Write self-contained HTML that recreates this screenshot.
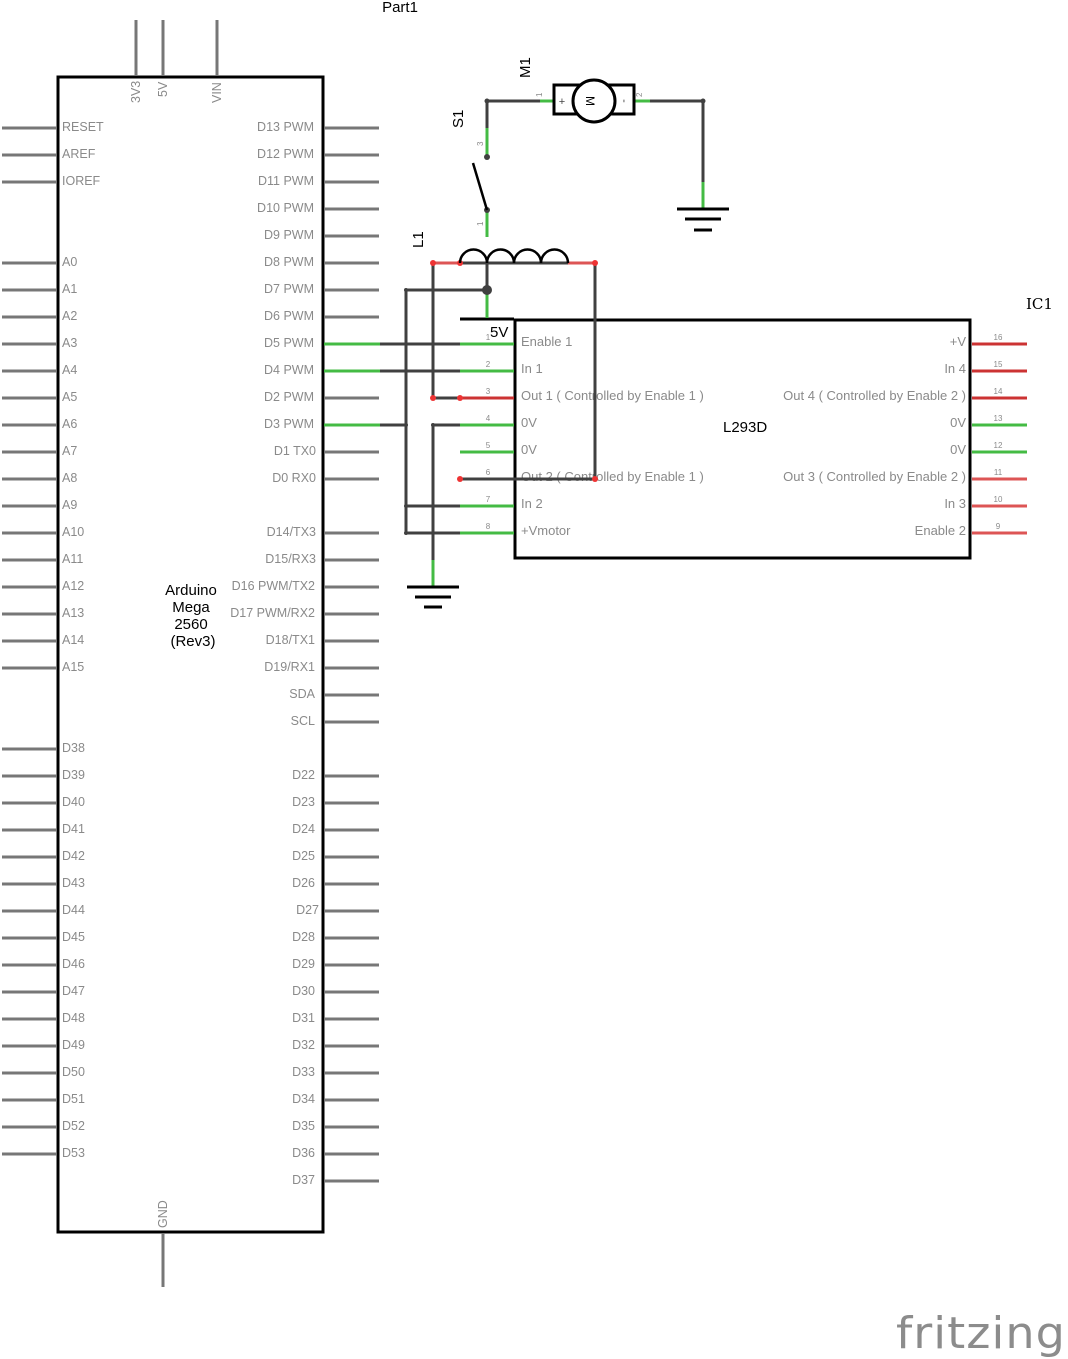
<!DOCTYPE html>
<html><head><meta charset="utf-8"><style>
html,body{margin:0;padding:0;background:#fff;}
svg{display:block;}
.l{font-family:"Liberation Sans","DejaVu Sans",sans-serif;font-size:12.5px;fill:#8a8a8a;}
.ic{font-size:13px;}
.n{font-family:"Liberation Sans","DejaVu Sans",sans-serif;font-size:8px;fill:#8a8a8a;}
.b{font-family:"Liberation Sans","DejaVu Sans",sans-serif;font-size:15px;fill:#000;}
</style></head><body>
<svg width="1068" height="1359" viewBox="0 0 1068 1359" xmlns="http://www.w3.org/2000/svg">
<rect width="1068" height="1359" fill="#fff"/>
<rect x="58" y="77" width="265" height="1155" fill="none" stroke="#000" stroke-width="3"/>
<g stroke="#777" stroke-width="3">
<line x1="136" y1="20" x2="136" y2="76"/><line x1="163" y1="20" x2="163" y2="76"/><line x1="217" y1="20" x2="217" y2="76"/>
<line x1="163" y1="1233" x2="163" y2="1287"/>
<line x1="2" y1="128" x2="57" y2="128"/><line x1="2" y1="155" x2="57" y2="155"/><line x1="2" y1="182" x2="57" y2="182"/>
<line x1="2" y1="263" x2="57" y2="263"/><line x1="2" y1="290" x2="57" y2="290"/><line x1="2" y1="317" x2="57" y2="317"/><line x1="2" y1="344" x2="57" y2="344"/>
<line x1="2" y1="371" x2="57" y2="371"/><line x1="2" y1="398" x2="57" y2="398"/><line x1="2" y1="425" x2="57" y2="425"/><line x1="2" y1="452" x2="57" y2="452"/>
<line x1="2" y1="479" x2="57" y2="479"/><line x1="2" y1="506" x2="57" y2="506"/><line x1="2" y1="533" x2="57" y2="533"/><line x1="2" y1="560" x2="57" y2="560"/>
<line x1="2" y1="587" x2="57" y2="587"/><line x1="2" y1="614" x2="57" y2="614"/><line x1="2" y1="641" x2="57" y2="641"/><line x1="2" y1="668" x2="57" y2="668"/>
<line x1="2" y1="749" x2="57" y2="749"/><line x1="2" y1="776" x2="57" y2="776"/><line x1="2" y1="803" x2="57" y2="803"/><line x1="2" y1="830" x2="57" y2="830"/>
<line x1="2" y1="857" x2="57" y2="857"/><line x1="2" y1="884" x2="57" y2="884"/><line x1="2" y1="911" x2="57" y2="911"/><line x1="2" y1="938" x2="57" y2="938"/>
<line x1="2" y1="965" x2="57" y2="965"/><line x1="2" y1="992" x2="57" y2="992"/><line x1="2" y1="1019" x2="57" y2="1019"/><line x1="2" y1="1046" x2="57" y2="1046"/>
<line x1="2" y1="1073" x2="57" y2="1073"/><line x1="2" y1="1100" x2="57" y2="1100"/><line x1="2" y1="1127" x2="57" y2="1127"/><line x1="2" y1="1154" x2="57" y2="1154"/>
<line x1="324" y1="128" x2="379" y2="128"/><line x1="324" y1="155" x2="379" y2="155"/><line x1="324" y1="182" x2="379" y2="182"/><line x1="324" y1="209" x2="379" y2="209"/>
<line x1="324" y1="236" x2="379" y2="236"/><line x1="324" y1="263" x2="379" y2="263"/><line x1="324" y1="290" x2="379" y2="290"/><line x1="324" y1="317" x2="379" y2="317"/>
<line x1="324" y1="398" x2="379" y2="398"/><line x1="324" y1="452" x2="379" y2="452"/><line x1="324" y1="479" x2="379" y2="479"/>
<line x1="324" y1="533" x2="379" y2="533"/><line x1="324" y1="560" x2="379" y2="560"/><line x1="324" y1="587" x2="379" y2="587"/><line x1="324" y1="614" x2="379" y2="614"/>
<line x1="324" y1="641" x2="379" y2="641"/><line x1="324" y1="668" x2="379" y2="668"/><line x1="324" y1="695" x2="379" y2="695"/><line x1="324" y1="722" x2="379" y2="722"/>
<line x1="324" y1="776" x2="379" y2="776"/><line x1="324" y1="803" x2="379" y2="803"/><line x1="324" y1="830" x2="379" y2="830"/><line x1="324" y1="857" x2="379" y2="857"/>
<line x1="324" y1="884" x2="379" y2="884"/><line x1="324" y1="911" x2="379" y2="911"/><line x1="324" y1="938" x2="379" y2="938"/><line x1="324" y1="965" x2="379" y2="965"/>
<line x1="324" y1="992" x2="379" y2="992"/><line x1="324" y1="1019" x2="379" y2="1019"/><line x1="324" y1="1046" x2="379" y2="1046"/><line x1="324" y1="1073" x2="379" y2="1073"/>
<line x1="324" y1="1100" x2="379" y2="1100"/><line x1="324" y1="1127" x2="379" y2="1127"/><line x1="324" y1="1154" x2="379" y2="1154"/><line x1="324" y1="1181" x2="379" y2="1181"/>
</g>
<g stroke="#44bb44" stroke-width="3">
<line x1="324" y1="344" x2="380" y2="344"/><line x1="324" y1="371" x2="380" y2="371"/><line x1="324" y1="425" x2="380" y2="425"/>
</g>
<g class="l" transform="translate(0,-1)">
<text x="62" y="132">RESET</text><text x="62" y="159">AREF</text><text x="62" y="186">IOREF</text>
<text x="62" y="267">A0</text><text x="62" y="294">A1</text><text x="62" y="321">A2</text><text x="62" y="348">A3</text>
<text x="62" y="375">A4</text><text x="62" y="402">A5</text><text x="62" y="429">A6</text><text x="62" y="456">A7</text>
<text x="62" y="483">A8</text><text x="62" y="510">A9</text><text x="62" y="537">A10</text><text x="62" y="564">A11</text>
<text x="62" y="591">A12</text><text x="62" y="618">A13</text><text x="62" y="645">A14</text><text x="62" y="672">A15</text>
<text x="62" y="753">D38</text><text x="62" y="780">D39</text><text x="62" y="807">D40</text><text x="62" y="834">D41</text>
<text x="62" y="861">D42</text><text x="62" y="888">D43</text><text x="62" y="915">D44</text><text x="62" y="942">D45</text>
<text x="62" y="969">D46</text><text x="62" y="996">D47</text><text x="62" y="1023">D48</text><text x="62" y="1050">D49</text>
<text x="62" y="1077">D50</text><text x="62" y="1104">D51</text><text x="62" y="1131">D52</text><text x="62" y="1158">D53</text>
</g>
<g class="l" text-anchor="end" transform="translate(0,-1)">
<text x="314" y="132">D13 PWM</text><text x="314" y="159">D12 PWM</text><text x="314" y="186">D11 PWM</text><text x="314" y="213">D10 PWM</text>
<text x="314" y="240">D9 PWM</text><text x="314" y="267">D8 PWM</text><text x="314" y="294">D7 PWM</text><text x="314" y="321">D6 PWM</text>
<text x="314" y="348">D5 PWM</text><text x="314" y="375">D4 PWM</text><text x="314" y="402">D2 PWM</text><text x="314" y="429">D3 PWM</text>
<text x="316" y="456">D1 TX0</text><text x="316" y="483">D0 RX0</text>
<text x="316" y="537">D14/TX3</text><text x="316" y="564">D15/RX3</text><text x="315" y="591">D16 PWM/TX2</text><text x="315" y="618">D17 PWM/RX2</text>
<text x="315" y="645">D18/TX1</text><text x="315" y="672">D19/RX1</text><text x="315" y="699">SDA</text><text x="315" y="726">SCL</text>
<text x="315" y="780">D22</text><text x="315" y="807">D23</text><text x="315" y="834">D24</text><text x="315" y="861">D25</text>
<text x="315" y="888">D26</text><text x="319" y="915">D27</text><text x="315" y="942">D28</text><text x="315" y="969">D29</text>
<text x="315" y="996">D30</text><text x="315" y="1023">D31</text><text x="315" y="1050">D32</text><text x="315" y="1077">D33</text>
<text x="315" y="1104">D34</text><text x="315" y="1131">D35</text><text x="315" y="1158">D36</text><text x="315" y="1185">D37</text>
</g>
<g class="l" font-size="11">
<text transform="translate(140,103) rotate(-90)">3V3</text>
<text transform="translate(167,97) rotate(-90)">5V</text>
<text transform="translate(221,103) rotate(-90)">VIN</text>
<text transform="translate(167,1228) rotate(-90)">GND</text>
</g>
<g class="b" text-anchor="middle">
<text x="191" y="595">Arduino</text><text x="191" y="612">Mega</text><text x="191" y="629">2560</text><text x="193" y="646">(Rev3)</text>
<text x="400" y="12">Part1</text>
</g>

<rect x="515" y="320" width="455" height="238" fill="none" stroke="#000" stroke-width="3"/>
<line x1="460" y1="319" x2="514" y2="319" stroke="#000" stroke-width="3"/>
<g stroke-width="3">
<line x1="460" y1="344" x2="514" y2="344" stroke="#44bb44"/>
<line x1="460" y1="371" x2="514" y2="371" stroke="#44bb44"/>
<line x1="460" y1="398" x2="514" y2="398" stroke="#cc3333"/>
<line x1="460" y1="425" x2="514" y2="425" stroke="#44bb44"/>
<line x1="460" y1="452" x2="514" y2="452" stroke="#44bb44"/>
<line x1="460" y1="479" x2="514" y2="479" stroke="#ee8888"/>
<line x1="460" y1="506" x2="514" y2="506" stroke="#44bb44"/>
<line x1="460" y1="533" x2="514" y2="533" stroke="#44bb44"/>
<line x1="972" y1="344" x2="1027" y2="344" stroke="#cc3333"/>
<line x1="972" y1="371" x2="1027" y2="371" stroke="#cc3333"/>
<line x1="972" y1="398" x2="1027" y2="398" stroke="#cc3333"/>
<line x1="972" y1="425" x2="1027" y2="425" stroke="#44bb44"/>
<line x1="972" y1="452" x2="1027" y2="452" stroke="#44bb44"/>
<line x1="972" y1="479" x2="1027" y2="479" stroke="#dd5555"/>
<line x1="972" y1="506" x2="1027" y2="506" stroke="#dd5555"/>
<line x1="972" y1="533" x2="1027" y2="533" stroke="#dd5555"/>
</g>
<g class="n" text-anchor="middle">
<text x="488" y="340">1</text><text x="488" y="367">2</text><text x="488" y="394">3</text><text x="488" y="421">4</text>
<text x="488" y="448">5</text><text x="488" y="475">6</text><text x="488" y="502">7</text><text x="488" y="529">8</text>
<text x="998" y="340">16</text><text x="998" y="367">15</text><text x="998" y="394">14</text><text x="998" y="421">13</text>
<text x="998" y="448">12</text><text x="998" y="475">11</text><text x="998" y="502">10</text><text x="998" y="529">9</text>
</g>
<g class="l ic" transform="translate(0,-1)">
<text x="521" y="347">Enable 1</text><text x="521" y="374">In 1</text><text x="521" y="401">Out 1 ( Controlled by Enable 1 )</text>
<text x="521" y="428">0V</text><text x="521" y="455">0V</text><text x="521" y="482">Out 2 ( Controlled by Enable 1 )</text>
<text x="521" y="509">In 2</text><text x="521" y="536">+Vmotor</text>
</g>
<g class="l ic" text-anchor="end" transform="translate(0,-1)">
<text x="966" y="347">+V</text><text x="966" y="374">In 4</text><text x="966" y="401">Out 4 ( Controlled by Enable 2 )</text>
<text x="966" y="428">0V</text><text x="966" y="455">0V</text><text x="966" y="482">Out 3 ( Controlled by Enable 2 )</text>
<text x="966" y="509">In 3</text><text x="966" y="536">Enable 2</text>
</g>
<text class="b" x="723" y="432">L293D</text>
<text class="b" x="490" y="337">5V</text>
<text x="1026" y="309" font-family="'DejaVu Serif','Liberation Serif',serif" font-size="15">IC1</text>

<g stroke="#404040" stroke-width="3" fill="none">
<line x1="380" y1="344" x2="460" y2="344"/>
<line x1="380" y1="371" x2="460" y2="371"/>
<line x1="380" y1="425" x2="406" y2="425"/>
<line x1="433" y1="425" x2="460" y2="425"/>
<line x1="433" y1="398" x2="460" y2="398"/>
<line x1="460" y1="479" x2="595" y2="479"/>
<line x1="406" y1="506" x2="460" y2="506"/>
<line x1="406" y1="533" x2="460" y2="533"/>
<line x1="406" y1="290" x2="406" y2="533"/>
<line x1="406" y1="290" x2="487" y2="290"/>
<line x1="433" y1="263" x2="433" y2="398"/>
<line x1="433" y1="425" x2="433" y2="560"/>
<line x1="595" y1="263" x2="595" y2="479"/>
<line x1="460" y1="263" x2="568" y2="263"/>
<line x1="487" y1="263" x2="487" y2="290"/>
<line x1="487" y1="101" x2="540" y2="101"/>
<line x1="650" y1="101" x2="703" y2="101"/>
<line x1="703" y1="101" x2="703" y2="182"/>
<line x1="487" y1="101" x2="487" y2="128"/>
</g>
<g stroke-width="3">
<line x1="433" y1="263" x2="460" y2="263" stroke="#dd5555"/>
<line x1="568" y1="263" x2="595" y2="263" stroke="#dd5555"/>
<line x1="487" y1="290" x2="487" y2="318" stroke="#44bb44"/>
<line x1="433" y1="560" x2="433" y2="586" stroke="#44bb44"/>
<line x1="703" y1="182" x2="703" y2="208" stroke="#44bb44"/>
<line x1="487" y1="128" x2="487" y2="157" stroke="#44bb44"/>
<line x1="487" y1="210" x2="487" y2="237" stroke="#44bb44"/>
<line x1="540" y1="101" x2="553" y2="101" stroke="#44bb44"/>
<line x1="635" y1="101" x2="650" y2="101" stroke="#44bb44"/>
</g>
<g fill="#ee3333">
<circle cx="433" cy="263" r="3"/><circle cx="460" cy="263" r="3"/><circle cx="595" cy="263" r="3"/>
<circle cx="433" cy="398" r="3"/><circle cx="460" cy="398" r="3"/><circle cx="460" cy="479" r="3"/><circle cx="595" cy="479" r="3"/>
</g>
<g fill="#404040">
<circle cx="487" cy="290" r="5"/><circle cx="487" cy="101" r="2.5"/><circle cx="703" cy="101" r="2.5"/>
<circle cx="406" cy="290" r="2"/><circle cx="406" cy="425" r="2"/><circle cx="433" cy="425" r="2"/><circle cx="406" cy="506" r="2"/><circle cx="406" cy="533" r="2"/>
<circle cx="487" cy="157" r="3"/><circle cx="487" cy="210" r="3"/>
</g>
<g stroke="#000" stroke-width="3">
<line x1="407" y1="587" x2="459" y2="587"/><line x1="415" y1="597" x2="451" y2="597"/><line x1="424" y1="607" x2="442" y2="607"/>
<line x1="677" y1="209" x2="729" y2="209"/><line x1="685" y1="219" x2="721" y2="219"/><line x1="694" y1="230" x2="712" y2="230"/>
</g>
<line x1="473" y1="163" x2="487" y2="210" stroke="#000" stroke-width="2.5"/>
<path d="M460 263 A13.5 13.5 0 0 1 487 263 A13.5 13.5 0 0 1 514 263 A13.5 13.5 0 0 1 541 263 A13.5 13.5 0 0 1 568 263" fill="none" stroke="#000" stroke-width="2.5"/>
<rect x="554" y="85" width="80" height="29" fill="#fff" stroke="#000" stroke-width="3"/>
<circle cx="594" cy="101" r="21" fill="#fff" stroke="#000" stroke-width="3"/>
<text x="0" y="0" transform="translate(590,101) rotate(90)" text-anchor="middle" font-family="'Liberation Sans',sans-serif" font-size="12" dy="4">M</text>
<text x="562" y="105" font-family="'Liberation Sans',sans-serif" font-size="11" fill="#444" text-anchor="middle">+</text>
<text x="0" y="0" transform="translate(625,101) rotate(90)" font-family="'Liberation Sans',sans-serif" font-size="11" fill="#444" text-anchor="middle" dy="4">-</text>
<g class="n">
<text transform="translate(542,97) rotate(-90)">1</text>
<text transform="translate(642,97) rotate(-90)">2</text>
<text transform="translate(483,146) rotate(-90)">3</text>
<text transform="translate(483,226) rotate(-90)">1</text>
</g>
<g class="b">
<text transform="translate(530,78) rotate(-90)">M1</text>
<text transform="translate(463,128) rotate(-90)">S1</text>
<text transform="translate(423,248) rotate(-90)">L1</text>
</g>
<text x="896" y="1348" font-family="'DejaVu Sans','Liberation Sans',sans-serif" font-size="44" fill="#8c8c8c" letter-spacing="1" textLength="170" lengthAdjust="spacingAndGlyphs">fritzing</text>
</svg>
</body></html>
